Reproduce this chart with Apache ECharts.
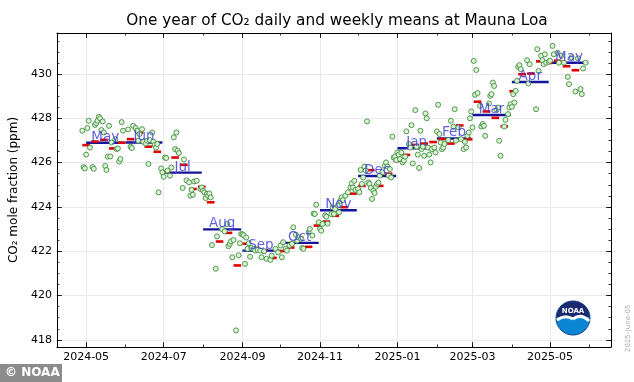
<!DOCTYPE html>
<html><head><meta charset="utf-8">
<script src="https://cdn.jsdelivr.net/npm/echarts@6/dist/echarts.min.js"></script>
<style>html,body{margin:0;padding:0;background:#fff}#c{width:634px;height:382px}</style>
</head><body><div id="c"></div>
<script>
// ---- data ----
const monthStarts = ['2024-05-01','2024-06-01','2024-07-01','2024-08-01','2024-09-01','2024-10-01','2024-11-01','2024-12-01','2025-01-01','2025-02-01','2025-03-01','2025-04-01','2025-05-01'];
const monthValues = [426.90,426.91,425.55,422.99,422.03,422.38,423.85,425.40,426.65,427.09,428.15,429.64,430.51];
const monthLabels = ['May','Jun','Jul','Aug','Sep','Oct','Nov','Dec','Jan','Feb','Mar','Apr','May'];

const weekStarts = ['2024-04-28','2024-05-05','2024-05-12','2024-05-19','2024-05-26','2024-06-02','2024-06-09','2024-06-16','2024-06-23','2024-06-30',
 '2024-07-07','2024-07-14','2024-07-21','2024-07-28','2024-08-04','2024-08-11','2024-08-18','2024-08-25','2024-09-01','2024-09-08',
 '2024-09-15','2024-09-22','2024-09-29','2024-10-06','2024-10-13','2024-10-20','2024-10-27','2024-11-03','2024-11-10','2024-11-17',
 '2024-11-24','2024-12-01','2024-12-08','2024-12-15','2024-12-22','2024-12-29','2025-01-05','2025-01-12','2025-01-19','2025-01-26',
 '2025-02-02','2025-02-09','2025-02-16','2025-02-23','2025-03-02','2025-03-09','2025-03-16','2025-03-23','2025-03-30','2025-04-06',
 '2025-04-13','2025-04-20','2025-04-27','2025-05-04','2025-05-11','2025-05-18'];
const weekValues = [426.79,426.95,427.03,426.64,426.90,427.06,427.36,426.72,426.49,425.59,
 426.23,425.90,424.81,424.91,424.21,422.44,422.83,421.36,422.34,422.15,
 422.05,421.70,422.01,422.17,422.62,422.20,423.16,423.34,423.60,423.99,
 424.60,424.95,425.66,424.95,425.50,426.08,426.35,426.80,426.86,426.93,
 427.06,426.86,427.68,427.05,428.75,428.31,428.02,427.64,429.22,429.99,
 430.02,430.57,430.50,430.60,430.35,430.17];

const dailyDates = [
 '2024-04-28','2024-04-29','2024-04-30',
 '2024-05-01','2024-05-02','2024-05-03','2024-05-04','2024-05-06','2024-05-07','2024-05-08','2024-05-09','2024-05-10','2024-05-11','2024-05-12','2024-05-13','2024-05-14','2024-05-15','2024-05-16','2024-05-17','2024-05-18','2024-05-19','2024-05-20','2024-05-21','2024-05-24','2024-05-25','2024-05-26','2024-05-27','2024-05-28','2024-05-29','2024-05-30',
 '2024-06-03','2024-06-05','2024-06-06','2024-06-07','2024-06-09','2024-06-10','2024-06-11','2024-06-12','2024-06-14','2024-06-15','2024-06-17','2024-06-18','2024-06-19','2024-06-20','2024-06-22','2024-06-23','2024-06-24','2024-06-25','2024-06-26','2024-06-27','2024-06-29','2024-06-30',
 '2024-07-01','2024-07-02','2024-07-03','2024-07-04','2024-07-06','2024-07-07','2024-07-09','2024-07-10','2024-07-11','2024-07-12','2024-07-13','2024-07-16','2024-07-17','2024-07-19','2024-07-21','2024-07-22','2024-07-23','2024-07-24','2024-07-25','2024-07-27','2024-07-30','2024-07-31',
 '2024-08-01','2024-08-02','2024-08-03','2024-08-04','2024-08-05','2024-08-06','2024-08-07','2024-08-08','2024-08-11','2024-08-12','2024-08-16','2024-08-18','2024-08-20','2024-08-21','2024-08-22','2024-08-23','2024-08-24','2024-08-25','2024-08-27','2024-08-29','2024-08-30','2024-08-31',
 '2024-09-01','2024-09-02','2024-09-03','2024-09-04','2024-09-05','2024-09-06','2024-09-07','2024-09-08','2024-09-10','2024-09-11','2024-09-13','2024-09-15','2024-09-16','2024-09-18','2024-09-20','2024-09-23','2024-09-24','2024-09-27','2024-09-29',
 '2024-10-01','2024-10-02','2024-10-03','2024-10-05','2024-10-06','2024-10-08','2024-10-10','2024-10-11','2024-10-13','2024-10-14','2024-10-15','2024-10-17','2024-10-18','2024-10-19','2024-10-23','2024-10-24','2024-10-26','2024-10-27','2024-10-28','2024-10-29','2024-10-31',
 '2024-11-01','2024-11-02','2024-11-03','2024-11-05','2024-11-06','2024-11-07','2024-11-10','2024-11-11','2024-11-12','2024-11-13','2024-11-15','2024-11-16','2024-11-17','2024-11-18','2024-11-19','2024-11-21','2024-11-23','2024-11-25','2024-11-26','2024-11-27','2024-11-28','2024-11-29',
 '2024-12-01','2024-12-02','2024-12-03','2024-12-04','2024-12-05','2024-12-06','2024-12-07','2024-12-08','2024-12-09','2024-12-10','2024-12-11','2024-12-12','2024-12-13','2024-12-14','2024-12-15','2024-12-16','2024-12-17','2024-12-18','2024-12-20','2024-12-22','2024-12-23','2024-12-24','2024-12-25','2024-12-26','2024-12-27','2024-12-28','2024-12-29','2024-12-30','2024-12-31',
 '2025-01-01','2025-01-02','2025-01-03','2025-01-04','2025-01-05','2025-01-06','2025-01-07','2025-01-08','2025-01-10','2025-01-11','2025-01-12','2025-01-13','2025-01-15','2025-01-16','2025-01-17','2025-01-18','2025-01-19','2025-01-20','2025-01-21','2025-01-22','2025-01-23','2025-01-24','2025-01-25','2025-01-26','2025-01-27','2025-01-28','2025-01-30','2025-01-31',
 '2025-02-01','2025-02-02','2025-02-03','2025-02-04','2025-02-05','2025-02-06','2025-02-07','2025-02-10','2025-02-12','2025-02-14','2025-02-15','2025-02-16','2025-02-18','2025-02-20','2025-02-22','2025-02-23','2025-02-24','2025-02-25','2025-02-26','2025-02-27','2025-02-28',
 '2025-03-01','2025-03-02','2025-03-03','2025-03-04','2025-03-05','2025-03-07','2025-03-08','2025-03-09','2025-03-10','2025-03-11','2025-03-14','2025-03-15','2025-03-16','2025-03-17','2025-03-18','2025-03-20','2025-03-21','2025-03-22','2025-03-23','2025-03-26','2025-03-27','2025-03-29','2025-03-30','2025-03-31',
 '2025-04-01','2025-04-02','2025-04-03','2025-04-04','2025-04-05','2025-04-06','2025-04-07','2025-04-08','2025-04-13','2025-04-14','2025-04-15','2025-04-20','2025-04-21','2025-04-22','2025-04-24','2025-04-25','2025-04-26','2025-04-27','2025-04-28','2025-04-30',
 '2025-05-01','2025-05-03','2025-05-04','2025-05-07','2025-05-08','2025-05-10','2025-05-12','2025-05-15','2025-05-16','2025-05-18','2025-05-21','2025-05-23','2025-05-25','2025-05-26','2025-05-27','2025-05-29'
];
const dailyValues = [
 427.44,425.80,425.74,
 426.36,427.56,427.89,426.68,425.80,425.72,427.70,427.78,427.89,428.07,428.00,427.47,427.86,427.36,425.85,425.67,426.27,427.66,426.28,426.91,427.06,426.61,426.64,426.05,426.16,427.83,427.44,
 427.50,426.72,426.66,427.66,427.56,427.44,426.99,427.29,427.51,426.94,426.86,426.99,425.94,427.02,427.36,426.94,426.80,426.68,426.84,424.66,425.74,425.56,
 425.36,426.23,426.21,425.64,425.41,425.78,427.14,426.61,427.36,426.54,426.43,424.86,426.14,425.20,425.11,424.51,424.77,424.55,425.15,425.18,424.81,424.88,
 424.73,424.66,424.40,424.59,424.51,424.61,424.43,422.28,421.21,422.67,423.00,422.90,423.23,422.23,422.33,422.45,421.73,422.51,418.43,421.82,422.36,422.78,
 422.76,422.72,421.43,422.62,422.11,422.36,421.75,422.15,422.11,422.03,422.06,422.03,421.73,422.00,421.66,421.61,421.80,422.11,421.95,
 422.26,421.73,422.41,422.11,422.03,422.26,422.33,423.08,422.75,422.48,422.63,422.56,422.15,422.11,422.86,423.01,422.71,423.70,423.68,424.10,423.31,
 423.01,422.93,423.23,423.62,423.56,423.25,423.68,423.98,423.68,423.91,424.06,423.76,424.28,424.43,424.31,424.51,424.66,424.88,425.06,424.88,425.18,424.77,
 424.81,424.66,425.67,425.04,425.33,425.82,425.64,427.86,425.11,425.04,424.86,424.36,424.73,424.63,424.91,425.04,425.10,425.41,425.56,425.86,426.01,425.82,425.41,425.71,425.33,427.17,426.23,426.27,426.12,
 426.46,426.36,426.16,426.46,426.01,426.09,426.27,427.41,426.84,426.68,427.69,425.96,428.37,426.72,426.36,425.76,427.44,426.61,426.72,426.31,428.22,428.00,426.68,426.36,426.01,426.61,426.68,426.46,
 427.41,428.61,427.29,426.91,426.61,426.68,426.84,427.02,427.89,427.62,428.41,426.99,427.59,427.06,426.61,426.94,426.68,427.21,427.36,428.00,428.31,
 427.59,430.59,429.06,430.18,429.14,428.56,427.63,427.74,427.66,427.21,428.67,429.01,429.09,429.61,429.46,428.38,428.49,426.99,426.31,427.63,427.93,428.19,428.49,428.64,
 428.52,429.09,428.71,429.24,429.69,430.32,430.40,430.22,430.62,429.57,430.44,428.41,431.12,430.14,430.82,430.62,430.44,430.89,430.51,430.55,
 430.60,431.27,430.89,430.96,430.51,430.82,430.51,429.87,429.54,430.75,429.21,430.71,429.32,429.09,430.25,430.51
];

const yMajorTicks = [418,420,422,424,426,428,430];
const yMinorTicks = [418,418.5,419,419.5,420,420.5,421,421.5,422,422.5,423,423.5,424,424.5,425,425.5,426,426.5,427,427.5,428,428.5,429,429.5,430,430.5,431,431.5];
const xMajorTicks = ['2024-05-01','2024-07-01','2024-09-01','2024-11-01','2025-01-01','2025-03-01','2025-05-01'];
const xMinorTicks = ['2024-05-01','2024-06-01','2024-07-01','2024-08-01','2024-09-01','2024-10-01','2024-11-01','2024-12-01','2025-01-01','2025-02-01','2025-03-01','2025-04-01','2025-05-01','2025-06-01'];
const xRange = ['2024-04-08','2025-06-18'];
const yRange = [417.68, 431.85];

// ---- helpers ----
const DAY = 86400000;
function t(s){ const p = s.split('-').map(Number); return Date.UTC(p[0], p[1]-1, p[2]); }
function monthEnd(s){ const p = s.split('-').map(Number); return Date.UTC(p[0], p[1], 0); }
function fmtX(v){ const d = new Date(v); return d.getUTCFullYear() + '-' + String(d.getUTCMonth()+1).padStart(2,'0'); }

const FONT = 'DejaVu Sans';
const xMin = t(xRange[0]), xMax = t(xRange[1]);
const xMaj = xMajorTicks.map(t), xMin2 = xMinorTicks.map(t);

function xAx(pos, major, labels){
  return {
    type:'value', min:xMin, max:xMax, position:pos,
    axisLine:{show:major, onZero:false, lineStyle:{color:'#000', width:1}},
    axisTick:{show:true, inside:true, length: major?5:2.5, customValues: major?xMaj:xMin2, lineStyle:{color:'#000', width:0.8}},
    axisLabel:{show:labels, customValues:xMaj, formatter:fmtX, color:'#000', fontSize:11, fontFamily:FONT, margin:5},
    splitLine:{show: labels, lineStyle:{color:'#e4e4e4', width:0.8}}
  };
}
function yAx(pos, major, labels){
  const o = {
    type:'value', min:yRange[0], max:yRange[1], position:pos,
    axisLine:{show:major, onZero:false, lineStyle:{color:'#000', width:1}},
    axisTick:{show:true, inside:true, length: major?5:2.5, customValues: major?yMajorTicks:yMinorTicks, lineStyle:{color:'#000', width:0.8}},
    axisLabel:{show:labels, customValues:yMajorTicks, color:'#000', fontSize:11, fontFamily:FONT, margin:5},
    splitLine:{show: labels, lineStyle:{color:'#e4e4e4', width:0.8}}
  };
  if (labels) {
    o.name = 'CO\u2082 mole fraction (ppm)';
    o.nameLocation = 'middle';
    o.nameGap = 31;
    o.nameRotate = 90;
    o.nameTextStyle = {color:'#000', fontSize:12, fontFamily:FONT};
  }
  return o;
}

const monthData = monthStarts.map((s,i)=>[t(s), monthEnd(s), monthValues[i], i]);
const weekData = weekStarts.map((s,i)=>[t(s), t(s)+6*DAY, weekValues[i]]);
const dailyData = dailyDates.map((d,i)=>[t(d), dailyValues[i]]);

const chart = echarts.init(document.getElementById('c'), null, {renderer:'canvas'});
chart.setOption({
  animation:false,
  backgroundColor:'#fff',
  textStyle:{fontFamily:FONT},
  title:{text:'One year of CO\u2082 daily and weekly means at Mauna Loa', left:332, top:9, textAlign:'center',
    textStyle:{fontSize:15.3, fontWeight:'normal', color:'#000', fontFamily:FONT}},
  grid:{left:50, right:23, top:33, bottom:35, containLabel:false},
  xAxis:[xAx('bottom',true,true), xAx('bottom',false,false), xAx('top',true,false), xAx('top',false,false)],
  yAxis:[yAx('left',true,true), yAx('left',false,false), yAx('right',true,false), yAx('right',false,false)],
  series:[
    { type:'custom', name:'monthly', data:monthData, encode:{x:[0,1], y:2}, z:2,
      renderItem:function(p, api){
        const a = api.coord([api.value(0), api.value(2)]), b = api.coord([api.value(1), api.value(2)]);
        return {type:'line', shape:{x1:a[0], y1:a[1], x2:b[0], y2:b[1]}, style:{stroke:'#14149a', lineWidth:2.4}};
      }},
    { type:'custom', name:'weekly', data:weekData, encode:{x:[0,1], y:2}, z:3,
      renderItem:function(p, api){
        const a = api.coord([api.value(0), api.value(2)]), b = api.coord([api.value(1), api.value(2)]);
        return {type:'line', shape:{x1:a[0], y1:a[1], x2:b[0], y2:b[1]}, style:{stroke:'#e00000', lineWidth:2.6}};
      }},
    { type:'scatter', name:'daily', data:dailyData, z:4, symbol:'circle', symbolSize:5,
      itemStyle:{color:'#dcf3d4', borderColor:'#3f8f3f', borderWidth:0.9, opacity:1}},
    { type:'custom', name:'monthLabels', data:monthData, encode:{x:[0,1], y:2}, z:6,
      renderItem:function(p, api){
        const a = api.coord([api.value(0), api.value(2)]), b = api.coord([api.value(1), api.value(2)]);
        return {type:'text', x:(a[0]+b[0])/2, y:a[1]+1.5,
          style:{text:monthLabels[api.value(3)], fill:'rgba(60,60,220,0.82)', font:'13.5px "DejaVu Sans"', align:'center', verticalAlign:'bottom'}};
      }}
  ],
  graphic:[
    {type:'group', left:0, top:364, children:[
      {type:'rect', shape:{x:0, y:0, width:62, height:18}, style:{fill:'rgba(120,120,120,0.85)'}},
      {type:'text', x:5, y:9, style:{text:'\u00a9 NOAA', fill:'#fff', font:'bold 12px "DejaVu Sans"', verticalAlign:'middle'}}
    ]},
    {type:'text', x:628, y:352, rotation:Math.PI/2, style:{text:'2025-June-05', fill:'#aaa', font:'7px "DejaVu Sans"', align:'left', verticalAlign:'middle'}},
    {type:'group', x:573, y:318, children:[
      {type:'circle', shape:{cx:0, cy:0, r:17}, style:{fill:{type:'linear', x:0, y:0, x2:0, y2:1, colorStops:[
        {offset:0, color:'#1b2a70'},{offset:0.48, color:'#1b2a70'},{offset:0.48, color:'#0a86d4'},{offset:1, color:'#0a86d4'}]}, stroke:'#0d3f86', lineWidth:1}},
      {type:'bezierCurve', shape:{x1:-16, y1:2, cpx1:-8, cpy1:-4, x2:0, y2:1}, style:{stroke:'#fff', lineWidth:3, fill:null}},
      {type:'bezierCurve', shape:{x1:0, y1:1, cpx1:8, cpy1:-5, x2:16, y2:3}, style:{stroke:'#fff', lineWidth:3, fill:null}},
      {type:'text', x:0, y:-7, style:{text:'NOAA', fill:'#fff', font:'bold 7px "DejaVu Sans"', align:'center', verticalAlign:'middle'}}
    ]}
  ]
});
</script></body></html>
